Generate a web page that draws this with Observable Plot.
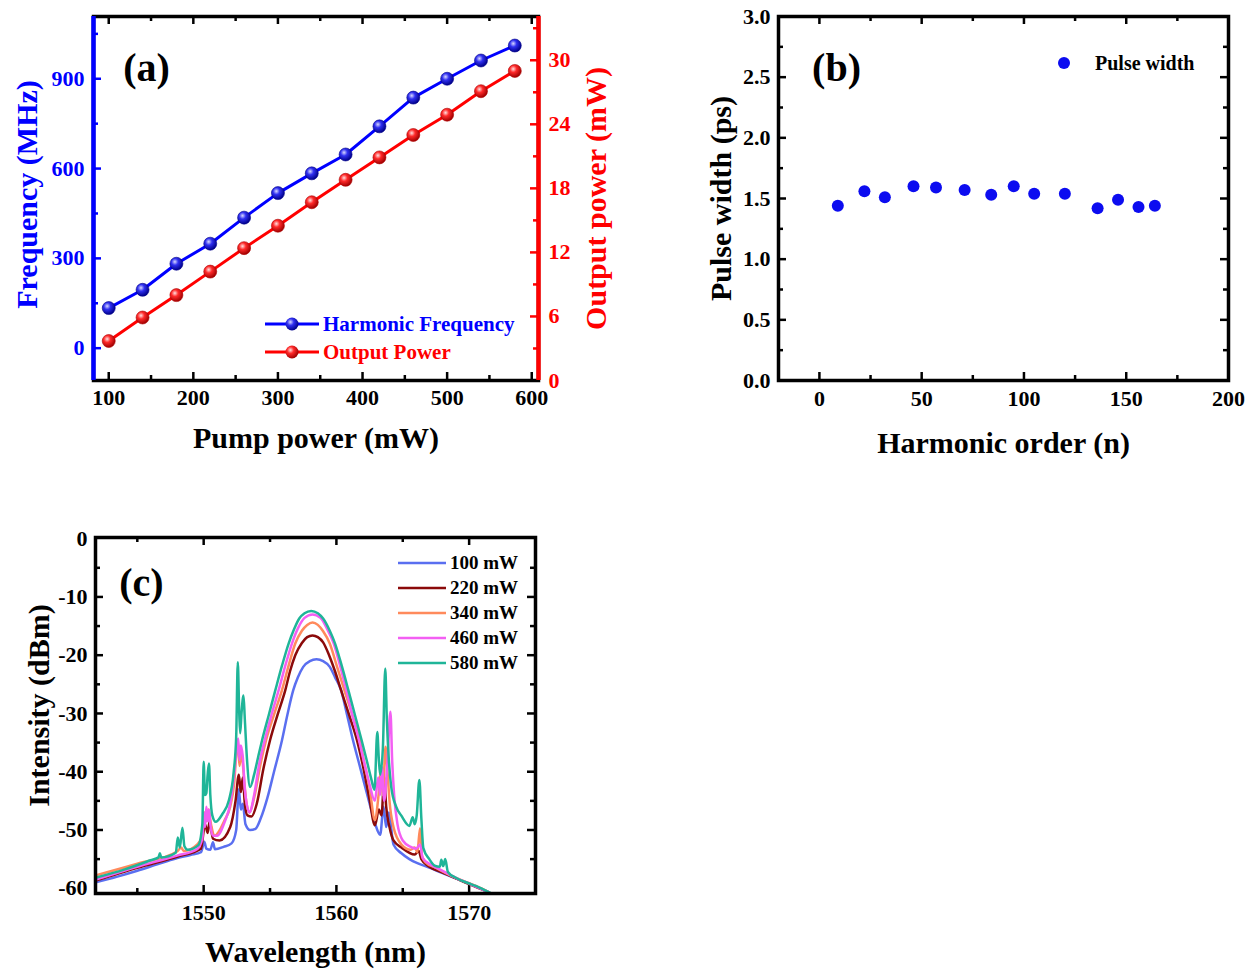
<!DOCTYPE html>
<html><head><meta charset="utf-8">
<script src="https://cdn.jsdelivr.net/npm/d3@7"></script>
<script src="https://cdn.jsdelivr.net/npm/@observablehq/plot@0.6"></script>
<style>
body{margin:0;background:#fff;}
#root{position:relative;width:1257px;height:969px;overflow:hidden;font-family:"Liberation Serif","Times New Roman",serif;font-weight:bold;}
.panel{position:absolute;}
.leg{position:absolute;display:flex;align-items:center;white-space:nowrap;height:22px;}
.leg svg{display:block;}
</style></head><body>
<svg width="0" height="0" style="position:absolute">
<defs>
<radialGradient id="gBlue" cx="38%" cy="35%" r="65%">
<stop offset="0%" stop-color="#d8d8ff"/><stop offset="40%" stop-color="#3030f0"/><stop offset="100%" stop-color="#00008a"/>
</radialGradient>
<radialGradient id="gRed" cx="38%" cy="35%" r="65%">
<stop offset="0%" stop-color="#ffe0e0"/><stop offset="40%" stop-color="#ff2a2a"/><stop offset="100%" stop-color="#a00000"/>
</radialGradient>
</defs></svg>
<div id="root"></div>
<script>
// ---------- Panel (a) data ----------
const pump = [100,140,180,220,260,300,340,380,420,460,500,540,580];
const harmonicFreq = [134,195,282,349,436,518,584,647,741,837,900,961,1011];
const outputPower = [3.7,5.9,8.0,10.2,12.4,14.5,16.7,18.8,20.9,23.0,24.9,27.1,29.0];
const pumpTicks = [100,200,300,400,500,600];
const freqTicks = [0,300,600,900];
const powTicks = [0,6,12,18,24,30];

// ---------- Panel (b) data ----------
const harmonicOrder = [9,22,32,46,57,71,84,95,105,120,136,146,156,164];
const pulseWidth = [1.44,1.56,1.51,1.60,1.59,1.57,1.53,1.60,1.54,1.54,1.42,1.49,1.43,1.44];
const orderTicks = [0,50,100,150,200];
const widthTicks = [0,0.5,1,1.5,2,2.5,3];

// ---------- Panel (c) data: [wavelength nm, intensity dBm] ----------
const spec100 = [[1541.85,-59.0],[1543.5,-58.0],[1545,-57.0],[1546.5,-55.9],[1547.9,-54.9],[1549.0,-54.3],[1549.8,-53.8],[1550.05,-52.0],[1550.2,-53.2],[1550.5,-53.4],[1550.7,-52.1],[1550.85,-53.3],[1551.5,-52.9],[1552.1,-52.3],[1552.45,-50],[1552.65,-43],[1552.8,-46.5],[1552.95,-45.5],[1553.15,-49],[1553.5,-50],[1553.9,-49.8],[1554.3,-48],[1554.8,-44.5],[1555.3,-40],[1555.9,-34.6],[1556.3,-30.3],[1556.75,-26],[1557.1,-23.8],[1557.5,-22],[1558.0,-21],[1558.5,-20.7],[1559.0,-21],[1559.5,-22],[1559.9,-23.8],[1560.35,-26],[1560.8,-30.2],[1561.25,-34.6],[1561.7,-38.5],[1562.1,-42],[1562.5,-45.5],[1562.9,-48.8],[1563.3,-50.8],[1563.55,-46],[1563.75,-49.5],[1563.95,-47],[1564.3,-52.5],[1564.9,-54],[1565.5,-55],[1566.1,-55.7],[1566.8,-56.3],[1568,-57.4],[1569,-58.3],[1570,-59.2],[1571.4,-60.6]];
const spec220 = [[1541.85,-58.7],[1545,-56.5],[1548,-54.6],[1549.8,-53.2],[1550.1,-49],[1550.3,-50.5],[1550.45,-48.5],[1550.7,-51.5],[1551.2,-51.8],[1552.0,-49.5],[1552.4,-45],[1552.65,-40.5],[1552.8,-43.5],[1552.95,-41],[1553.1,-45.5],[1553.3,-47.5],[1553.6,-47.7],[1554.0,-45.5],[1554.5,-39.5],[1555.0,-34.6],[1555.6,-30],[1556.15,-26],[1556.5,-22.8],[1556.9,-20],[1557.4,-17.9],[1557.8,-16.9],[1558.2,-16.6],[1558.6,-16.9],[1559.0,-17.8],[1559.45,-20],[1559.9,-22.8],[1560.35,-26],[1560.95,-30.2],[1561.55,-34.6],[1562.0,-39],[1562.5,-44.8],[1562.9,-49.2],[1563.2,-46.5],[1563.4,-47.5],[1563.6,-41],[1563.75,-46],[1564.0,-49.5],[1564.3,-51.8],[1564.9,-53],[1565.9,-54.2],[1566.2,-53.6],[1566.4,-55],[1567,-56.3],[1568,-57.3],[1569,-58.3],[1570,-59.3],[1571.5,-60.7]];
const spec340 = [[1541.85,-57.8],[1545,-55.8],[1548,-53.7],[1548.3,-53.0],[1548.5,-53.6],[1549.5,-52.5],[1549.9,-51],[1550.05,-47],[1550.2,-48.5],[1550.35,-46.5],[1550.55,-49],[1550.8,-51],[1551.6,-48.2],[1552.0,-46],[1552.3,-42],[1552.55,-34.5],[1552.7,-39],[1552.85,-36.5],[1553.0,-40],[1553.2,-45],[1553.45,-47],[1553.8,-44.5],[1554.3,-38.5],[1554.7,-34.6],[1555.3,-30.2],[1555.9,-26],[1556.4,-21.8],[1556.9,-18],[1557.4,-15.8],[1557.8,-14.8],[1558.2,-14.4],[1558.6,-14.8],[1559.0,-15.9],[1559.5,-18],[1560.05,-22],[1560.6,-26],[1561.2,-30.3],[1561.75,-34.6],[1562.1,-38.5],[1562.5,-42.8],[1562.9,-48.3],[1563.2,-43.5],[1563.35,-40],[1563.5,-44],[1563.7,-35.7],[1563.85,-40],[1564.0,-45],[1564.3,-49.5],[1564.9,-52.5],[1565.6,-53.4],[1565.9,-53],[1566.1,-53.8],[1566.3,-49.7],[1566.45,-54.5],[1566.7,-55.5],[1567.5,-56.5],[1568.5,-57.7],[1569.5,-58.7],[1570.5,-59.6],[1571.5,-60.7]];
const spec460 = [[1541.85,-58.5],[1545,-56.3],[1548,-54.4],[1549.5,-53.3],[1549.9,-51.5],[1550.0,-47],[1550.1,-49.5],[1550.2,-46],[1550.3,-48.5],[1550.4,-46.5],[1550.5,-49],[1550.7,-51],[1551.0,-51],[1551.6,-48.5],[1552.0,-45.5],[1552.25,-41.4],[1552.45,-37],[1552.6,-34.3],[1552.7,-38],[1552.8,-35.5],[1552.95,-37.5],[1553.1,-43],[1553.45,-47],[1553.8,-44],[1554.2,-38.5],[1554.6,-34.6],[1555.1,-30.3],[1555.65,-26],[1556.15,-21.8],[1556.65,-18],[1557.1,-15.4],[1557.6,-13.6],[1558.2,-13.0],[1558.8,-13.6],[1559.3,-15.5],[1559.8,-18],[1560.3,-22],[1560.75,-26],[1561.2,-30.3],[1561.7,-34.6],[1562.1,-38.5],[1562.5,-42.2],[1562.9,-45],[1563.15,-41],[1563.3,-44],[1563.43,-39.2],[1563.6,-45],[1563.85,-38],[1564.07,-29.7],[1564.2,-38],[1564.35,-44],[1564.6,-49],[1565.0,-51.8],[1565.6,-52.9],[1566.0,-53.2],[1566.3,-52.5],[1566.5,-54.8],[1567.0,-55.8],[1568.0,-57],[1569,-58.2],[1570,-59.2],[1571.5,-60.7]];
const spec580 = [[1541.85,-58.2],[1544,-56.8],[1546,-55.2],[1546.6,-54.7],[1546.7,-54.0],[1546.8,-54.7],[1547.9,-53.9],[1548.05,-51.3],[1548.2,-53],[1548.4,-49.6],[1548.55,-52.8],[1548.8,-53.4],[1549.6,-52.6],[1549.9,-49],[1550.0,-38.3],[1550.1,-44],[1550.2,-43.7],[1550.3,-40.5],[1550.4,-38.6],[1550.5,-44],[1550.65,-47.5],[1550.9,-48.6],[1551.4,-47.3],[1551.9,-44.9],[1552.25,-40.3],[1552.45,-34],[1552.57,-21.2],[1552.68,-30],[1552.75,-33.4],[1552.85,-30],[1553.0,-26.9],[1553.1,-31],[1553.25,-37.4],[1553.5,-42.6],[1553.8,-40.5],[1554.1,-37.5],[1554.4,-34.6],[1554.9,-30.3],[1555.4,-26],[1555.9,-21.8],[1556.4,-18],[1556.8,-15.6],[1557.2,-13.7],[1557.6,-12.8],[1558.1,-12.4],[1558.6,-12.8],[1559.0,-13.7],[1559.5,-15.8],[1559.9,-18],[1560.4,-21.8],[1560.9,-26],[1561.4,-30.3],[1561.9,-34.6],[1562.3,-38.2],[1562.6,-41],[1562.87,-43.1],[1563.08,-33.2],[1563.2,-38],[1563.3,-40.5],[1563.5,-36],[1563.68,-22.3],[1563.8,-31],[1563.95,-38],[1564.13,-42.6],[1564.5,-46],[1564.88,-47.5],[1565.5,-49.3],[1565.75,-47.8],[1565.9,-49],[1566.05,-47.5],[1566.25,-41.4],[1566.4,-48],[1566.55,-53.1],[1567.0,-55],[1567.4,-56.1],[1567.8,-56.3],[1567.9,-55.1],[1568.05,-56.2],[1568.2,-55.0],[1568.4,-57.2],[1569,-58.2],[1569.9,-59.1],[1570.5,-59.6],[1571.25,-60.4],[1571.6,-60.8]];
const specLabels = ["100 mW","220 mW","340 mW","460 mW","580 mW"];
const specColors = ["#5a6ff0","#8b0a0a","#ff8a5c","#f35ff3","#1fb598"];
const wlTicks = [1550,1560,1570];
const dbTicks = [-60,-50,-40,-30,-20,-10,0];

// ---------- helpers ----------
const FONT = '"Liberation Serif","Times New Roman",serif';
const baseStyle = {fontFamily: FONT, fontWeight: "bold", fontSize: "22px", background: "transparent", overflow: "visible"};
function range(a, b, s) { const r = []; for (let v = a; v <= b + 1e-9; v += s) r.push(+v.toFixed(6)); return r; }
function inX(vals, innerH, len, stroke = "black") {
  return [Plot.tickX(vals, {x: d => d, insetTop: innerH - len, stroke, strokeWidth: 2.5}),
          Plot.tickX(vals, {x: d => d, insetBottom: innerH - len, stroke, strokeWidth: 2.5})];
}
function inYL(vals, innerW, len, stroke = "black") {
  return Plot.tickY(vals, {y: d => d, insetRight: innerW - len, stroke, strokeWidth: 2.5});
}
function inYR(vals, innerW, len, stroke = "black") {
  return Plot.tickY(vals, {y: d => d, insetLeft: innerW - len, stroke, strokeWidth: 2.5});
}
function title(t, opts) {
  return Plot.text([t], {text: d => d, textAnchor: "middle", lineAnchor: "middle", ...opts});
}
const root = document.getElementById("root");
function place(el, left, top) { el.classList.add("panel"); el.style.left = left + "px"; el.style.top = top + "px"; root.appendChild(el); }

// ---------- Panel (a) ----------
{
  const W = 625, H = 470, ml = 93, mr = 87, mt = 16, mb = 90;
  const iw = W - ml - mr, ih = H - mt - mb;
  const yDom = [-108, 1108], rDom = [0, 34.1];
  const f = v => yDom[0] + (v - rDom[0]) * (yDom[1] - yDom[0]) / (rDom[1] - rDom[0]);
  const finv = y => rDom[0] + (y - yDom[0]) * (rDom[1] - rDom[0]) / (yDom[1] - yDom[0]);
  const blueData = pump.map((p, i) => ({p, v: harmonicFreq[i]}));
  const redData = pump.map((p, i) => ({p, v: f(outputPower[i])}));
  const el = Plot.plot({
    width: W, height: H, marginLeft: ml, marginRight: mr, marginTop: mt, marginBottom: mb,
    x: {domain: [82, 608]}, y: {domain: yDom},
    style: baseStyle,
    marks: [
      ...inX(range(100, 600, 100), ih, 8), ...inX(range(150, 550, 100), ih, 5),
      inYL(freqTicks, iw, 8, "#0000ff"), inYL([150,450,750,1050], iw, 5, "#0000ff"),
      inYR(powTicks.slice(1).map(f), iw, 8, "#ff0000"), inYR([3,9,15,21,27,33].map(f), iw, 5, "#ff0000"),
      Plot.frame({stroke: "black", strokeWidth: 3.5}),
      Plot.ruleX([82], {stroke: "#0000ff", strokeWidth: 4.5}),
      Plot.ruleX([608], {stroke: "#ff0000", strokeWidth: 4.5}),
      Plot.line(redData, {x: "p", y: "v", stroke: "#ff0000", strokeWidth: 3}),
      Plot.dot(redData, {x: "p", y: "v", r: 6.5, fill: "url(#gRed)", stroke: "#b00000", strokeWidth: 0.6}),
      Plot.line(blueData, {x: "p", y: "v", stroke: "#0000ff", strokeWidth: 3}),
      Plot.dot(blueData, {x: "p", y: "v", r: 6.5, fill: "url(#gBlue)", stroke: "#00008a", strokeWidth: 0.6}),
      Plot.axisX({ticks: pumpTicks, tickSize: 0, tickPadding: 9, label: null, fontSize: 22, fontWeight: "bold", fill: "black"}),
      Plot.axisY({ticks: freqTicks, tickSize: 0, tickPadding: 9, label: null, fontSize: 22, fontWeight: "bold", fill: "#0000ff"}),
      Plot.axisY({anchor: "right", ticks: powTicks.map(f), tickFormat: d => String(Math.round(finv(d))), tickSize: 0, tickPadding: 10, label: null, fontSize: 22, fontWeight: "bold", fill: "#ff0000"}),
      title("Pump power (mW)", {frameAnchor: "bottom", dy: 58, fontSize: 30, fill: "black"}),
      title("Frequency (MHz)", {frameAnchor: "left", dx: -66, dy: -4, rotate: -90, fontSize: 30, fill: "#0000ff"}),
      title("Output power (mW)", {frameAnchor: "right", dx: 58, rotate: -90, fontSize: 30, fill: "#ff0000"}),
      title("(a)", {frameAnchor: "top-left", dx: 53, dy: 52, fontSize: 40, fill: "black"})
    ]
  });
  place(el, 0, 0);
  const legA = [["Harmonic Frequency", "#0000ff", "gBlue", 324], ["Output Power", "#ff0000", "gRed", 352]];
  for (const [t, c, g, cy] of legA) {
    const d = document.createElement("div");
    d.className = "leg";
    d.style.left = "265px"; d.style.top = (cy - 11) + "px";
    d.innerHTML = `<svg width="54" height="22"><line x1="0" x2="54" y1="11" y2="11" stroke="${c}" stroke-width="3"/><circle cx="27" cy="11" r="6.5" fill="url(#${g})"/></svg><span style="margin-left:4px;font-size:21px;color:${c}">${t}</span>`;
    root.appendChild(d);
  }
}

// ---------- Panel (b) ----------
{
  const W = 567, H = 470, ml = 88, mr = 29, mt = 16, mb = 90;
  const iw = W - ml - mr, ih = H - mt - mb;
  const data = harmonicOrder.map((n, i) => ({n, w: pulseWidth[i]}));
  const el = Plot.plot({
    width: W, height: H, marginLeft: ml, marginRight: mr, marginTop: mt, marginBottom: mb,
    x: {domain: [-20, 200]}, y: {domain: [0, 3]},
    style: baseStyle,
    marks: [
      ...inX(range(0, 150, 50), ih, 8), ...inX(range(25, 175, 50), ih, 5),
      inYL(range(0.5, 2.5, 0.5), iw, 8), inYL(range(0.25, 2.75, 0.5), iw, 5),
      inYR(range(0.5, 2.5, 0.5), iw, 8), inYR(range(0.25, 2.75, 0.5), iw, 5),
      Plot.frame({stroke: "black", strokeWidth: 3.5}),
      Plot.dot(data, {x: "n", y: "w", r: 6, fill: "#0c0cf0"}),
      Plot.axisX({ticks: orderTicks, tickSize: 0, tickPadding: 10, label: null, fontSize: 22, fontWeight: "bold"}),
      Plot.axisY({ticks: widthTicks, tickFormat: d3.format(".1f"), tickSize: 0, tickPadding: 8, label: null, fontSize: 22, fontWeight: "bold"}),
      title("Harmonic order (n)", {frameAnchor: "bottom", dy: 63, fontSize: 30}),
      title("Pulse width (ps)", {frameAnchor: "left", dx: -57, rotate: -90, fontSize: 30}),
      title("(b)", {frameAnchor: "top-left", dx: 58, dy: 52, fontSize: 40})
    ]
  });
  place(el, 690, 0);
  const d = document.createElement("div");
  d.className = "leg";
  d.style.left = "1057px"; d.style.top = "52px";
  d.innerHTML = `<svg width="14" height="22"><circle cx="7" cy="11" r="6" fill="#0c0cf0"/></svg><span style="margin-left:24px;font-size:20px;color:black">Pulse width</span>`;
  root.appendChild(d);
}

// ---------- Panel (c) ----------
{
  const W = 560, H = 449, ml = 95, mr = 25, mt = 17, mb = 76;
  const iw = W - ml - mr, ih = H - mt - mb;
  const series = [spec100, spec220, spec340, spec460, spec580];
  const lines = series.map((s, i) => Plot.line(s, {x: d => d[0], y: d => d[1], stroke: specColors[i], strokeWidth: 2.5, curve: "monotone-x"}));
  const el = Plot.plot({
    width: W, height: H, marginLeft: ml, marginRight: mr, marginTop: mt, marginBottom: mb,
    x: {domain: [1541.85, 1575]}, y: {domain: [-60.9, 0.2]},
    style: baseStyle,
    marks: [
      ...inX(wlTicks, ih, 8), ...inX([1545,1555,1565], ih, 5),
      inYL(range(-50, -10, 10), iw, 8), inYL(range(-55, -5, 10), iw, 5),
      inYR(range(-50, -10, 10), iw, 8), inYR(range(-55, -5, 10), iw, 5),
      ...lines,
      Plot.frame({stroke: "black", strokeWidth: 3.5}),
      Plot.axisX({ticks: wlTicks, tickFormat: d => String(d), tickSize: 0, tickPadding: 11, label: null, fontSize: 22, fontWeight: "bold"}),
      Plot.axisY({ticks: dbTicks, tickFormat: d => String(d), tickSize: 0, tickPadding: 8, label: null, fontSize: 22, fontWeight: "bold"}),
      title("Wavelength (nm)", {frameAnchor: "bottom", dy: 59, fontSize: 30}),
      title("Intensity (dBm)", {frameAnchor: "left", dx: -56, dy: -10, rotate: -90, fontSize: 30}),
      title("(c)", {frameAnchor: "top-left", dx: 46, dy: 46, fontSize: 40})
    ]
  });
  place(el, 0, 520);
  specLabels.forEach((t, i) => {
    const d = document.createElement("div");
    d.className = "leg";
    d.style.left = "398px"; d.style.top = (563 + 25 * i - 11) + "px";
    d.innerHTML = `<svg width="48" height="22"><line x1="0" x2="48" y1="11" y2="11" stroke="${specColors[i]}" stroke-width="2.5"/></svg><span style="margin-left:4px;font-size:19px;color:black">${t}</span>`;
    root.appendChild(d);
  });
}
</script></body></html>
